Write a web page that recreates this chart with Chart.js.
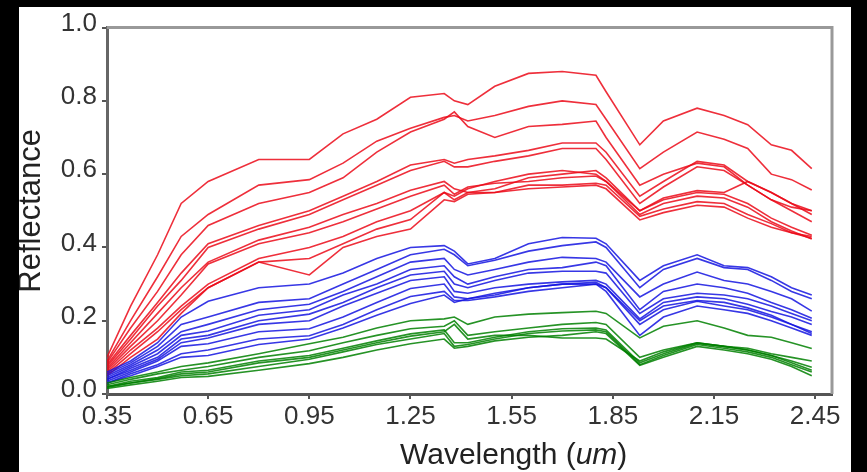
<!DOCTYPE html>
<html>
<head>
<meta charset="utf-8">
<script src="https://cdn.jsdelivr.net/npm/chart.js@4/dist/chart.umd.min.js"></script>
<style>
  body { margin: 0; background: #000; width: 867px; height: 472px; overflow: hidden; }
  #frame { position: absolute; left: 19px; top: 7px; width: 832px; height: 465px; background: #fff; }
  #xTitle { position: absolute; left: 381px; top: 430px; font-family: "Liberation Sans", Arial, sans-serif;
            font-size: 30px; color: #222; white-space: nowrap; }
</style>
</head>
<body>
<div id="frame">
  <canvas id="spectraChart" width="832" height="465"></canvas>
  <div id="xTitle">Wavelength (<i>um</i>)</div>
</div>
<script>
// wavelength grid (um) and tick labels
const wavelengths = [0.35, 0.42, 0.50, 0.57, 0.65, 0.80, 0.95, 1.05, 1.15, 1.25, 1.35, 1.38, 1.42,
  1.50, 1.60, 1.70, 1.80, 1.83, 1.93, 2.00, 2.10, 2.18, 2.25, 2.32, 2.38, 2.44];
const xTickValues = [0.35, 0.65, 0.95, 1.25, 1.55, 1.85, 2.15, 2.45];
const yTickValues = [0.0, 0.2, 0.4, 0.6, 0.8, 1.0];

// red group
const red1 = [0.10, 0.24, 0.38, 0.52, 0.58, 0.64, 0.64, 0.71, 0.75, 0.81, 0.82, 0.80, 0.79, 0.84, 0.875, 0.88, 0.87, 0.825, 0.68, 0.745, 0.78, 0.76, 0.735, 0.68, 0.665, 0.615];
const red2 = [0.09, 0.20, 0.32, 0.43, 0.49, 0.57, 0.585, 0.63, 0.69, 0.725, 0.755, 0.76, 0.745, 0.76, 0.785, 0.80, 0.79, 0.75, 0.615, 0.66, 0.715, 0.695, 0.67, 0.60, 0.585, 0.557];
const red3 = [0.085, 0.18, 0.28, 0.38, 0.46, 0.52, 0.55, 0.59, 0.66, 0.715, 0.75, 0.77, 0.73, 0.70, 0.73, 0.736, 0.745, 0.70, 0.57, 0.60, 0.63, 0.62, 0.57, 0.53, 0.51, 0.50];
const red4 = [0.08, 0.16, 0.25, 0.33, 0.41, 0.46, 0.50, 0.54, 0.58, 0.625, 0.64, 0.63, 0.64, 0.65, 0.665, 0.685, 0.685, 0.66, 0.54, 0.58, 0.635, 0.625, 0.58, 0.55, 0.52, 0.49];
const red5 = [0.075, 0.15, 0.24, 0.31, 0.40, 0.45, 0.49, 0.53, 0.57, 0.61, 0.635, 0.62, 0.62, 0.635, 0.65, 0.67, 0.67, 0.64, 0.52, 0.565, 0.62, 0.61, 0.57, 0.53, 0.50, 0.47];
const red6 = [0.07, 0.14, 0.22, 0.29, 0.36, 0.42, 0.455, 0.49, 0.52, 0.556, 0.58, 0.56, 0.55, 0.56, 0.59, 0.60, 0.61, 0.59, 0.50, 0.53, 0.55, 0.545, 0.52, 0.48, 0.455, 0.433];
const red7 = [0.065, 0.13, 0.20, 0.27, 0.355, 0.41, 0.44, 0.47, 0.505, 0.54, 0.57, 0.545, 0.565, 0.575, 0.58, 0.59, 0.595, 0.58, 0.49, 0.52, 0.54, 0.535, 0.51, 0.47, 0.445, 0.423];
const red8 = [0.06, 0.12, 0.18, 0.24, 0.30, 0.37, 0.40, 0.43, 0.47, 0.50, 0.55, 0.53, 0.55, 0.55, 0.57, 0.57, 0.575, 0.57, 0.485, 0.505, 0.525, 0.52, 0.49, 0.465, 0.44, 0.43];
const red9 = [0.055, 0.11, 0.17, 0.23, 0.29, 0.36, 0.37, 0.41, 0.45, 0.476, 0.55, 0.54, 0.56, 0.58, 0.60, 0.61, 0.60, 0.58, 0.50, 0.535, 0.555, 0.55, 0.58, 0.55, 0.52, 0.50];
const red10 = [0.05, 0.10, 0.15, 0.22, 0.29, 0.36, 0.325, 0.40, 0.43, 0.45, 0.53, 0.525, 0.545, 0.55, 0.56, 0.565, 0.57, 0.56, 0.475, 0.495, 0.515, 0.51, 0.48, 0.455, 0.44, 0.425];

// blue group
const blue1 = [0.06, 0.09, 0.14, 0.21, 0.253, 0.29, 0.30, 0.33, 0.37, 0.40, 0.405, 0.39, 0.355, 0.37, 0.41, 0.427, 0.425, 0.41, 0.31, 0.35, 0.38, 0.35, 0.345, 0.32, 0.29, 0.27];
const blue2 = [0.055, 0.085, 0.13, 0.19, 0.21, 0.25, 0.26, 0.30, 0.34, 0.38, 0.395, 0.38, 0.35, 0.365, 0.39, 0.405, 0.415, 0.40, 0.29, 0.34, 0.37, 0.345, 0.34, 0.31, 0.28, 0.26];
const blue3 = [0.05, 0.08, 0.12, 0.17, 0.19, 0.23, 0.245, 0.28, 0.32, 0.36, 0.37, 0.34, 0.325, 0.34, 0.36, 0.373, 0.37, 0.36, 0.265, 0.30, 0.333, 0.31, 0.30, 0.28, 0.26, 0.226];
const blue4 = [0.045, 0.075, 0.11, 0.16, 0.172, 0.215, 0.23, 0.27, 0.30, 0.34, 0.35, 0.32, 0.30, 0.32, 0.34, 0.345, 0.36, 0.35, 0.23, 0.28, 0.30, 0.29, 0.275, 0.25, 0.23, 0.207];
const blue5 = [0.04, 0.07, 0.10, 0.15, 0.16, 0.20, 0.218, 0.25, 0.29, 0.325, 0.335, 0.30, 0.29, 0.31, 0.33, 0.335, 0.335, 0.33, 0.22, 0.26, 0.275, 0.27, 0.26, 0.24, 0.22, 0.20];
const blue6 = [0.04, 0.065, 0.095, 0.14, 0.153, 0.19, 0.20, 0.24, 0.275, 0.31, 0.32, 0.28, 0.275, 0.29, 0.30, 0.306, 0.31, 0.30, 0.205, 0.25, 0.265, 0.26, 0.245, 0.225, 0.21, 0.19];
const blue7 = [0.035, 0.06, 0.09, 0.13, 0.137, 0.17, 0.178, 0.21, 0.25, 0.288, 0.30, 0.265, 0.26, 0.275, 0.29, 0.30, 0.305, 0.29, 0.20, 0.24, 0.255, 0.25, 0.235, 0.215, 0.19, 0.165];
const blue8 = [0.03, 0.055, 0.08, 0.11, 0.12, 0.15, 0.159, 0.19, 0.23, 0.266, 0.28, 0.255, 0.255, 0.265, 0.28, 0.29, 0.30, 0.28, 0.16, 0.21, 0.24, 0.23, 0.22, 0.20, 0.18, 0.16];
const blue9 = [0.03, 0.05, 0.075, 0.10, 0.105, 0.135, 0.15, 0.18, 0.215, 0.247, 0.27, 0.25, 0.26, 0.27, 0.29, 0.30, 0.30, 0.29, 0.19, 0.23, 0.253, 0.24, 0.23, 0.21, 0.19, 0.17];

// green group
const green1 = [0.03, 0.045, 0.06, 0.075, 0.085, 0.11, 0.137, 0.155, 0.18, 0.20, 0.205, 0.21, 0.19, 0.21, 0.218, 0.222, 0.226, 0.22, 0.153, 0.185, 0.20, 0.18, 0.16, 0.155, 0.14, 0.124];
const green2 = [0.025, 0.04, 0.055, 0.065, 0.075, 0.10, 0.118, 0.14, 0.16, 0.178, 0.185, 0.20, 0.16, 0.17, 0.18, 0.19, 0.195, 0.19, 0.10, 0.12, 0.14, 0.13, 0.125, 0.11, 0.10, 0.09];
const green3 = [0.02, 0.035, 0.045, 0.06, 0.065, 0.09, 0.105, 0.125, 0.145, 0.164, 0.175, 0.14, 0.14, 0.155, 0.17, 0.178, 0.18, 0.175, 0.085, 0.11, 0.138, 0.13, 0.12, 0.105, 0.09, 0.073];
const green4 = [0.018, 0.03, 0.04, 0.05, 0.055, 0.075, 0.095, 0.115, 0.135, 0.15, 0.165, 0.13, 0.135, 0.15, 0.165, 0.172, 0.175, 0.17, 0.08, 0.105, 0.135, 0.125, 0.115, 0.10, 0.08, 0.06];
const green5 = [0.015, 0.025, 0.035, 0.045, 0.048, 0.065, 0.083, 0.10, 0.12, 0.137, 0.15, 0.125, 0.13, 0.145, 0.155, 0.16, 0.17, 0.165, 0.078, 0.10, 0.13, 0.12, 0.11, 0.095, 0.075, 0.05];
const green6 = [0.02, 0.03, 0.042, 0.055, 0.06, 0.085, 0.10, 0.12, 0.14, 0.158, 0.17, 0.19, 0.15, 0.16, 0.16, 0.153, 0.153, 0.15, 0.09, 0.115, 0.14, 0.13, 0.12, 0.105, 0.085, 0.065];

const redSpectra = [red1, red2, red3, red4, red5, red6, red7, red8, red9, red10];
const blueSpectra = [blue1, blue2, blue3, blue4, blue5, blue6, blue7, blue8, blue9];
const greenSpectra = [green1, green2, green3, green4, green5, green6];

const RED = 'rgba(235, 10, 25, 0.85)';
const BLUE = 'rgba(20, 20, 225, 0.85)';
const GREEN = 'rgba(0, 128, 0, 0.85)';

function toDataset(values, color) {
  return {
    data: wavelengths.map((w, i) => ({ x: w, y: values[i] })),
    borderColor: color,
    borderWidth: 1.6,
    pointRadius: 0,
    tension: 0,
    fill: false
  };
}

// top and right frame lines of the plot box
const frameBox = {
  id: 'frameBox',
  afterDraw(chart) {
    const { ctx, chartArea } = chart;
    ctx.save();
    ctx.strokeStyle = '#999';
    ctx.lineWidth = 3;
    ctx.beginPath();
    ctx.moveTo(chartArea.left, chartArea.top);
    ctx.lineTo(chartArea.right, chartArea.top);
    ctx.lineTo(chartArea.right, chartArea.bottom);
    ctx.stroke();
    ctx.restore();
  }
};

function createSpectraChart() {
  const ctx = document.getElementById('spectraChart').getContext('2d');
  const datasets = []
    .concat(greenSpectra.map(s => toDataset(s, GREEN)))
    .concat(blueSpectra.map(s => toDataset(s, BLUE)))
    .concat(redSpectra.map(s => toDataset(s, RED)));

  const tickFont = { family: '"Liberation Sans", Arial, sans-serif', size: 26 };

  new Chart(ctx, {
    type: 'line',
    data: { datasets: datasets },
    plugins: [frameBox],
    options: {
      responsive: false,
      animation: false,
      layout: { padding: { top: 15, right: 19, left: 0, bottom: 0 } },
      plugins: { legend: { display: false }, tooltip: { enabled: false } },
      scales: {
        x: {
          type: 'linear',
          min: 0.35,
          max: 2.5,
          afterBuildTicks: axis => { axis.ticks = xTickValues.map(v => ({ value: v })); },
          afterFit: scale => { scale.height = 78; },
          ticks: {
            callback: v => v.toFixed(2),
            color: '#333',
            font: tickFont,
            padding: 2,
            maxRotation: 0,
            autoSkip: false
          },
          grid: { drawOnChartArea: false, drawTicks: true, tickLength: 5, color: '#555', lineWidth: 2 },
          border: { color: '#555', width: 3 }
        },
        y: {
          min: 0,
          max: 1,
          afterBuildTicks: axis => { axis.ticks = yTickValues.map(v => ({ value: v })); },
          afterFit: scale => { scale.width = 88; },
          ticks: {
            callback: v => v.toFixed(1),
            color: '#333',
            font: tickFont,
            padding: 5,
            labelOffset: -4
          },
          title: {
            display: true,
            text: 'Reflectance',
            color: '#222',
            font: { family: '"Liberation Sans", Arial, sans-serif', size: 31, lineHeight: 0.8 },
            padding: 0
          },
          grid: { drawOnChartArea: false, drawTicks: true, tickLength: 5, color: '#555', lineWidth: 2 },
          border: { color: '#666', width: 3 }
        }
      }
    }
  });
}

createSpectraChart();
</script>
</body>
</html>
